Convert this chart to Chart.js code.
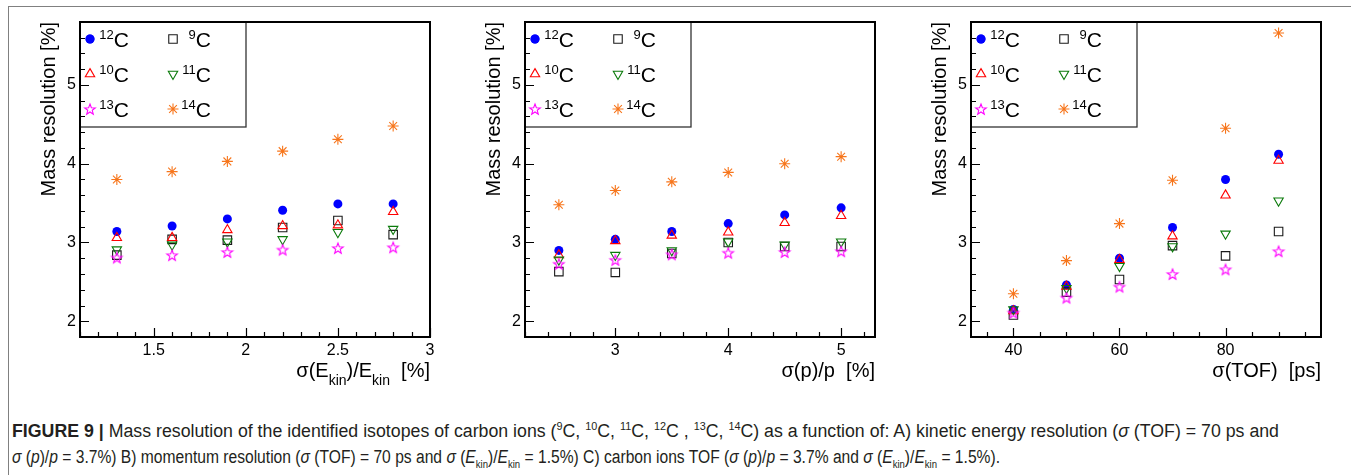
<!DOCTYPE html>
<html>
<head>
<meta charset="utf-8">
<script src="https://cdn.jsdelivr.net/npm/chart.js@4/dist/chart.umd.min.js"></script>
<style>
  body { margin: 0; background: #fff; width: 1351px; height: 475px; overflow: hidden; position: relative; font-family: "Liberation Sans", Arial, sans-serif; }
  .frame { position: absolute; left: 8px; top: 6px; width: 1343px; height: 469px; border-top: 1px solid #808080; border-left: 1px solid #808080; }
  canvas { position: absolute; top: 0; }
  #caption { position: absolute; left: 12px; top: 418px; font-size: 18px; line-height: 26px; color: #231f20; white-space: nowrap; }
  #caption .line { display: inline-block; transform-origin: 0 50%; }
  #caption sup, #caption sub { font-size: 11px; line-height: 0; }
</style>
</head>
<body>
<div class="frame"></div>
<canvas id="c1" width="445" height="400" style="left:0px"></canvas>
<canvas id="c2" width="445" height="400" style="left:445px"></canvas>
<canvas id="c3" width="445" height="400" style="left:891px"></canvas>
<div id="caption"><span class="line"><b>FIGURE 9</b> <b>|</b> Mass resolution of the identified isotopes of carbon ions (<sup>9</sup>C, <sup>10</sup>C, <sup>11</sup>C, <sup>12</sup>C , <sup>13</sup>C, <sup>14</sup>C) as a function of: A) kinetic energy resolution (<i>σ</i> (TOF) = 70 ps and</span><br><span class="line"><i>σ</i> (<i>p</i>)/<i>p</i> = 3.7%) B) momentum resolution (<i>σ</i> (TOF) = 70 ps and <i>σ</i> (<i>E</i><sub>kin</sub>)/<i>E</i><sub>kin</sub> = 1.5%) C) carbon ions TOF (<i>σ</i> (<i>p</i>)/<i>p</i> = 3.7% and <i>σ</i> (<i>E</i><sub>kin</sub>)/<i>E</i><sub>kin</sub> = 1.5%).</span></div>
<script>
// isotopos (numero masico) y orden de la leyenda
const isotopes = ["12", "9", "10", "11", "13", "14"];

// A) sigma(Ekin)/Ekin [%]
const xEkin = [1.3, 1.6, 1.9, 2.2, 2.5, 2.8];
const ekinC9 = [2.84, 3.04, 3.03, 3.19, 3.28, 3.10];
const ekinC10 = [3.06, 3.06, 3.16, 3.21, 3.22, 3.39];
const ekinC11 = [2.91, 2.97, 3.01, 3.04, 3.13, 3.17];
const ekinC12 = [3.14, 3.21, 3.30, 3.41, 3.49, 3.49];
const ekinC13 = [2.81, 2.84, 2.88, 2.91, 2.93, 2.94];
const ekinC14 = [3.80, 3.90, 4.03, 4.16, 4.31, 4.48];

// B) sigma(p)/p [%]
const xMom = [2.5, 3, 3.5, 4, 4.5, 5];
const momC9 = [2.63, 2.62, 2.86, 3.00, 2.95, 2.95];
const momC10 = [2.84, 3.02, 3.09, 3.13, 3.25, 3.34];
const momC11 = [2.78, 2.84, 2.90, 3.01, 2.97, 3.01];
const momC12 = [2.90, 3.04, 3.14, 3.24, 3.35, 3.44];
const momC13 = [2.73, 2.78, 2.85, 2.87, 2.88, 2.89];
const momC14 = [3.48, 3.66, 3.77, 3.89, 4.00, 4.09];

// C) sigma(TOF) [ps]
const xTof = [40, 50, 60, 70, 80, 90];
const tofC9 = [2.08, 2.37, 2.53, 2.96, 2.83, 3.14];
const tofC10 = [2.13, 2.44, 2.78, 3.08, 3.60, 4.04];
const tofC11 = [2.15, 2.42, 2.70, 2.95, 3.11, 3.53];
const tofC12 = [2.15, 2.46, 2.80, 3.19, 3.80, 4.12];
const tofC13 = [2.11, 2.30, 2.44, 2.60, 2.66, 2.89];
const tofC14 = [2.35, 2.77, 3.24, 3.79, 4.45, 5.66];

// etiquetas de los ejes
const yTicks = [2, 3, 4, 5];
const xTicksEkin = [1.5, 2, 2.5, 3];
const xTicksMom = [3, 4, 5];
const xTicksTof = [40, 60, 80];

const FONT = "'Liberation Sans', Arial, Helvetica, sans-serif";

// estrella abierta (no existe en Chart.js)
function starImage(color, r) {
    const c = document.createElement("canvas");
    const s = Math.ceil(r * 2 + 4);
    c.width = s; c.height = s;
    const g = c.getContext("2d");
    g.strokeStyle = color;
    g.lineWidth = 1.1;
    g.beginPath();
    for (let i = 0; i < 10; i++) {
        const a = -Math.PI / 2 + i * Math.PI / 5;
        const rr = i % 2 ? r * 0.42 : r;
        g.lineTo(s / 2 + rr * Math.cos(a), s / 2 + 0.6 + rr * Math.sin(a));
    }
    g.closePath();
    g.stroke();
    return c;
}

const styles = {
    "12": { pointStyle: "circle", pointRadius: 4.5, pointRotation: 0, pointBackgroundColor: "#0000ff", pointBorderColor: "#0000ff", pointBorderWidth: 0 },
    "9": { pointStyle: "rect", pointRadius: 6, pointRotation: 0, pointBackgroundColor: "rgba(0,0,0,0)", pointBorderColor: "#1a1a1a", pointBorderWidth: 1.1 },
    "10": { pointStyle: "triangle", pointRadius: 5.4, pointRotation: 0, pointBackgroundColor: "rgba(0,0,0,0)", pointBorderColor: "#ff0000", pointBorderWidth: 1.1 },
    "11": { pointStyle: "triangle", pointRadius: 5.4, pointRotation: 180, pointBackgroundColor: "rgba(0,0,0,0)", pointBorderColor: "#0a7a0a", pointBorderWidth: 1.1 },
    "13": { pointStyle: starImage("#ff00ff", 5.6), pointRadius: 5, pointRotation: 0, pointBackgroundColor: "rgba(0,0,0,0)", pointBorderColor: "#ff00ff", pointBorderWidth: 1.1 },
    "14": { pointStyle: "star", pointRadius: 5.5, pointRotation: 0, pointBackgroundColor: "rgba(0,0,0,0)", pointBorderColor: "#f7761c", pointBorderWidth: 1.1 }
};

// texto con sub/superindices: partes [texto, 0 normal | 1 sub | 2 sup]
function drawRich(ctx, parts, x, y, align, size, small) {
    let w = 0;
    parts.forEach((p) => {
        ctx.font = (p[1] ? small : size) + "px " + FONT;
        w += ctx.measureText(p[0]).width;
    });
    let cx = align === "right" ? x - w : x;
    ctx.textAlign = "left";
    ctx.textBaseline = "alphabetic";
    parts.forEach((p) => {
        ctx.font = (p[1] ? small : size) + "px " + FONT;
        const dy = p[1] === 1 ? size * 0.42 : p[1] === 2 ? -size * 0.4 : 0;
        ctx.fillText(p[0], cx, y + dy);
        cx += ctx.measureText(p[0]).width;
    });
}

// leyenda, marco, marcas interiores y titulos estilo ROOT
const rootStyle = {
    id: "rootStyle",
    afterDatasetsDraw(chart, args, opts) {
        const ctx = chart.ctx;
        const a = chart.chartArea;
        const xs = chart.scales.x;
        const ys = chart.scales.y;
        ctx.save();

        // leyenda
        ctx.fillStyle = "#fff";
        ctx.fillRect(a.left, a.top, 166, 105);
        ctx.strokeStyle = "#333";
        ctx.lineWidth = 1.3;
        ctx.strokeRect(a.left, a.top, 166, 105);
        isotopes.forEach((iso, i) => {
            const col = i % 2;
            const row = Math.floor(i / 2);
            const my = a.top + 17 + row * 35;
            const mx = a.left + (col ? 93 : 10);
            const st = styles[iso];
            ctx.fillStyle = st.pointBackgroundColor;
            ctx.strokeStyle = st.pointBorderColor;
            ctx.lineWidth = st.pointBorderWidth || 1;
            Chart.helpers.drawPoint(ctx, { pointStyle: st.pointStyle, radius: st.pointRadius, rotation: st.pointRotation, borderWidth: st.pointBorderWidth }, mx, my);
            if (st.pointBorderWidth === 0) {
                ctx.beginPath();
                ctx.arc(mx, my, st.pointRadius, 0, Math.PI * 2);
                ctx.fill();
            }
            ctx.fillStyle = "#000";
            drawRich(ctx, [[iso, 2], ["C", 0]], a.left + (col ? 131 : 49), my + 8, "right", 21, 13);
        });

        // marco
        ctx.strokeStyle = "#000";
        ctx.lineWidth = 2;
        ctx.strokeRect(a.left, a.top, a.right - a.left, a.bottom - a.top);

        // marcas
        ctx.lineWidth = 1.2;
        ctx.beginPath();
        const near = (v, list) => list.some((t) => Math.abs(t - v) < 1e-6);
        for (let v = Math.ceil(ys.min / opts.yMinor - 1e-6) * opts.yMinor; v <= ys.max + 1e-6; v += opts.yMinor) {
            const py = Math.round(ys.getPixelForValue(v)) + 0.5;
            const len = near(v, yTicks) ? 9 : 5;
            ctx.moveTo(a.left, py);
            ctx.lineTo(a.left + len, py);
        }
        for (let v = Math.ceil(xs.min / opts.xMinor - 1e-6) * opts.xMinor; v <= xs.max + 1e-6; v += opts.xMinor) {
            const px = Math.round(xs.getPixelForValue(v)) + 0.5;
            const len = near(v, opts.xMajor) ? 9 : 5;
            ctx.moveTo(px, a.bottom);
            ctx.lineTo(px, a.bottom - len);
        }
        ctx.stroke();

        // titulos de los ejes
        ctx.fillStyle = "#000";
        drawRich(ctx, opts.xTitle, a.right, 377, "right", 20, 14);
        ctx.translate(a.left - 31, a.top);
        ctx.rotate(-Math.PI / 2);
        ctx.font = "20px " + FONT;
        ctx.textAlign = "right";
        ctx.textBaseline = "middle";
        ctx.fillText("Mass resolution [%]", 0, 0);
        ctx.restore();
    }
};

function puntos(xv, yv) {
    return xv.map((x, i) => ({ x: x, y: yv[i] }));
}

function panel(id, xv, series, xMin, xMax, xMajor, xMinor, xTitle) {
    // orden de dibujo: el primero queda encima
    const drawOrder = ["13", "11", "10", "9", "12", "14"];
    const datasets = drawOrder.map((iso) => Object.assign({ label: iso + "C", data: puntos(xv, series[iso]) }, styles[iso]));
    new Chart(document.getElementById(id).getContext("2d"), {
        type: "scatter",
        data: { datasets: datasets },
        options: {
            responsive: false,
            animation: false,
            events: [],
            layout: { padding: { top: 22, right: 15, left: 0, bottom: 0 } },
            plugins: {
                legend: { display: false },
                tooltip: { enabled: false },
                rootStyle: { xMajor: xMajor, xMinor: xMinor, yMinor: 0.2, xTitle: xTitle }
            },
            scales: {
                x: {
                    type: "linear",
                    min: xMin,
                    max: xMax,
                    grid: { display: false, drawTicks: false },
                    border: { display: false },
                    ticks: { padding: 4, color: "#000", font: { family: FONT, size: 16 }, maxRotation: 0, callback: (v) => String(v) },
                    afterBuildTicks: (s) => { s.ticks = xMajor.map((v) => ({ value: v })); },
                    afterFit: (s) => { s.height = 63; }
                },
                y: {
                    type: "linear",
                    min: 1.8,
                    max: 5.8,
                    grid: { display: false, drawTicks: false },
                    border: { display: false },
                    ticks: { padding: 4, color: "#000", font: { family: FONT, size: 16 }, callback: (v) => String(v) },
                    afterBuildTicks: (s) => { s.ticks = yTicks.map((v) => ({ value: v })); },
                    afterFit: (s) => { s.width = 80; }
                }
            }
        },
        plugins: [rootStyle]
    });
}

panel("c1", xEkin, { "9": ekinC9, "10": ekinC10, "11": ekinC11, "12": ekinC12, "13": ekinC13, "14": ekinC14 },
    1.1, 3.0, xTicksEkin, 0.1, [["σ(E", 0], ["kin", 1], [")/E", 0], ["kin", 1], ["  [%]", 0]]);
panel("c2", xMom, { "9": momC9, "10": momC10, "11": momC11, "12": momC12, "13": momC13, "14": momC14 },
    2.2, 5.3, xTicksMom, 0.2, [["σ(p)/p  [%]", 0]]);
panel("c3", xTof, { "9": tofC9, "10": tofC10, "11": tofC11, "12": tofC12, "13": tofC13, "14": tofC14 },
    32, 98, xTicksTof, 5, [["σ(TOF)  [ps]", 0]]);

// ajustar el ancho de cada linea del pie de figura
const captionWidths = [1267, 988];
document.querySelectorAll("#caption .line").forEach((el, i) => {
    const w = el.getBoundingClientRect().width;
    el.style.transform = "scaleX(" + (captionWidths[i] / w) + ")";
});
</script>
</body>
</html>
